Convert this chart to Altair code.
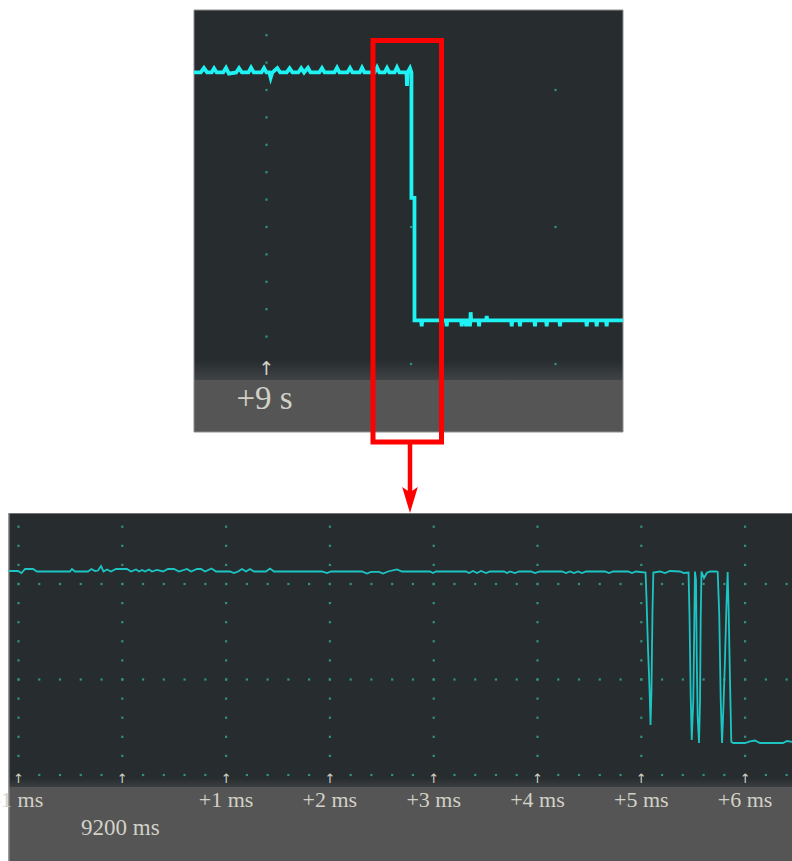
import altair as alt
import pandas as pd

# ---------------------------------------------------------------
# Overview capture: time in seconds, signal level in volts
# ---------------------------------------------------------------
top_time_s = [
    8.498, 8.545, 8.567, 8.589, 8.620, 8.637, 8.655, 8.700, 8.720, 8.740,
    8.790, 8.810, 8.830, 8.875, 8.893, 8.912, 8.965, 8.983, 9.000, 9.020,
    9.029, 9.040, 9.075, 9.095, 9.140, 9.160, 9.180, 9.220, 9.240, 9.260,
    9.287, 9.305, 9.365, 9.384, 9.402, 9.470, 9.488, 9.505, 9.560, 9.578,
    9.595, 9.645, 9.661, 9.678, 9.748, 9.765, 9.782, 9.818, 9.834, 9.850,
    9.886, 9.903, 9.920, 9.952, 9.969, 9.972, 9.976, 9.993, 10.003, 10.003,
    10.024, 10.024,
    10.070, 10.074, 10.078, 10.243, 10.247, 10.251, 10.347, 10.351, 10.355,
    10.377, 10.381, 10.385, 10.404, 10.408, 10.411, 10.413, 10.416,
    10.467, 10.471, 10.475, 10.520, 10.524, 10.528, 10.693, 10.697, 10.701,
    10.750, 10.754, 10.758, 10.854, 10.858, 10.862, 10.935, 10.939, 10.943,
    11.027, 11.031, 11.035, 11.212, 11.216, 11.220, 11.281, 11.285, 11.289,
    11.350, 11.354, 11.358, 11.467,
]
top_volts = [
    2.128, 2.128, 2.160, 2.128, 2.128, 2.158, 2.128, 2.128, 2.162, 2.120,
    2.128, 2.160, 2.128, 2.128, 2.163, 2.128, 2.128, 2.160, 2.128, 2.128,
    2.090, 2.128, 2.160, 2.128, 2.128, 2.158, 2.128, 2.128, 2.160, 2.128,
    2.162, 2.128, 2.128, 2.160, 2.128, 2.128, 2.162, 2.128, 2.128, 2.160,
    2.128, 2.128, 2.163, 2.128, 2.128, 2.165, 2.128, 2.128, 2.160, 2.128,
    2.128, 2.165, 2.128, 2.128, 2.128, 2.030, 2.128, 2.160, 2.128, 1.212,
    1.212, 0.318,
    0.318, 0.275, 0.318, 0.318, 0.275, 0.318, 0.318, 0.275, 0.318,
    0.318, 0.275, 0.318, 0.318, 0.275, 0.318, 0.378, 0.318,
    0.318, 0.275, 0.318, 0.318, 0.350, 0.318, 0.318, 0.275, 0.318,
    0.318, 0.275, 0.318, 0.318, 0.275, 0.318, 0.318, 0.275, 0.318,
    0.318, 0.275, 0.318, 0.318, 0.275, 0.318, 0.318, 0.275, 0.318,
    0.318, 0.275, 0.318, 0.318,
]

# ---------------------------------------------------------------
# Zoomed capture: time in ms after the 9200 ms mark, level in volts
# ---------------------------------------------------------------
zoom_time_ms = [
    -1.092, -1.005, -0.971, -0.937, -0.860, -0.822, -0.504, -0.485, -0.456, -0.330,
    -0.297, -0.263, -0.234, -0.205, -0.181, -0.147, -0.109, -0.061, 0.045, 0.084,
    0.132, 0.161, 0.190, 0.219, 0.257, 0.286, 0.334, 0.392, 0.440, 0.498,
    0.546, 0.623, 0.662, 0.720, 0.758, 0.797, 0.859, 0.903, 1.038, 1.076,
    1.115, 1.153, 1.192, 1.230, 1.269, 1.384, 1.423, 1.462, 1.924, 1.972,
    2.011, 2.309, 2.357, 2.396, 2.473, 2.512, 2.560, 2.646, 2.695, 2.964,
    2.993, 3.022, 3.311, 3.340, 3.379, 3.417, 3.456, 3.504, 3.542, 3.677,
    3.706, 3.735, 3.783, 3.822, 3.937, 3.976, 4.024, 4.236, 4.275, 4.313,
    4.352, 4.390, 4.429, 4.467, 4.650, 4.689, 4.727, 4.872, 4.910, 4.949,
    5.041, 5.050, 5.065, 5.079, 5.089, 5.098, 5.108, 5.116, 5.180, 5.228,
    5.277, 5.373, 5.411, 5.455, 5.464, 5.476, 5.486, 5.501, 5.511, 5.517,
    5.527, 5.534, 5.543, 5.556, 5.566, 5.572, 5.580, 5.604, 5.630, 5.662,
    5.720, 5.736, 5.751, 5.765, 5.778, 5.792, 5.806, 5.821, 5.832, 5.842,
    5.855, 5.867, 5.886, 5.999, 6.047, 6.095, 6.144, 6.365, 6.404, 6.452,
]
zoom_volts = [
    2.136, 2.136, 2.115, 2.157, 2.157, 2.131, 2.131, 2.157, 2.131, 2.131,
    2.157, 2.136, 2.141, 2.188, 2.131, 2.152, 2.131, 2.157, 2.157, 2.131,
    2.152, 2.131, 2.147, 2.131, 2.152, 2.131, 2.147, 2.131, 2.157, 2.157,
    2.131, 2.157, 2.131, 2.157, 2.157, 2.131, 2.162, 2.131, 2.131, 2.115,
    2.131, 2.157, 2.131, 2.157, 2.131, 2.131, 2.162, 2.131, 2.131, 2.115,
    2.131, 2.131, 2.110, 2.126, 2.126, 2.110, 2.131, 2.152, 2.131, 2.131,
    2.115, 2.131, 2.131, 2.115, 2.136, 2.115, 2.136, 2.115, 2.131, 2.131,
    2.115, 2.131, 2.115, 2.131, 2.131, 2.115, 2.131, 2.131, 2.115, 2.131,
    2.115, 2.131, 2.115, 2.131, 2.131, 2.115, 2.131, 2.131, 2.115, 2.131,
    2.120, 1.853, 1.309, 0.911, 0.524, 0.890, 1.728, 2.120, 2.131, 2.115,
    2.136, 2.131, 2.115, 2.120, 1.696, 0.817, 0.366, 0.785, 1.623, 2.131,
    2.042, 1.236, 0.607, 0.335, 0.785, 1.623, 2.131, 2.063, 2.115, 2.131,
    2.131, 2.126, 1.675, 0.785, 0.335, 0.733, 1.204, 1.801, 2.126, 1.696,
    0.963, 0.349, 0.335, 0.335, 0.351, 0.361, 0.335, 0.335, 0.356, 0.346,
]

# Timeline ticks and their captions
top_ticks_s = [9, 10, 11]
top_tick_text = ["+9 s", "", ""]
zoom_ticks_ms = [-1, 0, 1, 2, 3, 4, 5, 6]
zoom_tick_text = ["-1 ms", "", "+1 ms", "+2 ms", "+3 ms", "+4 ms", "+5 ms", "+6 ms"]
zoom_origin_ms = [0]
zoom_origin_text = ["9200 ms"]

# Colours
SCREEN = "#272c2e"
STRIP = "#555555"
DOT = "#2f9083"
LABEL = "#d2d1c7"
TOP_TRACE = "#1ff2f2"
ZOOM_TRACE = "#1dc4c4"
RED = "#ff0000"
SERIF = "Liberation Serif"

# Scales: one grid division = 1 s (or 1 ms) horizontally and 1 V vertically
top_x = alt.Scale(domain=[9, 11], range=[266.5, 555.5], nice=False, zero=False)
top_y = alt.Scale(domain=[0, 2], range=[364, 90], nice=False, zero=False)
zoom_x = alt.Scale(domain=[0, 6], range=[122.3, 745.1], nice=False, zero=False)
zoom_y = alt.Scale(domain=[0, 2], range=[775, 584], nice=False, zero=False)

one = pd.DataFrame({"k": [0]})


def box(x0, x1, y0, y1, **mark):
    return alt.Chart(one).mark_rect(**mark).encode(
        x=alt.value(x0), x2=alt.value(x1), y=alt.value(y0), y2=alt.value(y1)
    )


def fade(top, bottom):
    return alt.Gradient(
        gradient="linear",
        stops=[alt.GradientStop(offset=0, color=top), alt.GradientStop(offset=1, color=bottom)],
        x1=0, x2=0, y1=0, y2=1,
    )


# ---------------- data tables ----------------
top_df = pd.DataFrame({"t": top_time_s, "v": top_volts})
top_df["i"] = range(len(top_df))
zoom_df = pd.DataFrame({"t": zoom_time_ms, "v": zoom_volts})
zoom_df["i"] = range(len(zoom_df))

# graticule dots: the 9 s column carries the fine divisions, other columns only the majors
top_dots = [(9, round(0.2 * k, 1)) for k in range(1, 13)]
top_dots += [(t, v) for t in top_ticks_s[1:] for v in (0, 1, 2)]
top_dot_df = pd.DataFrame(top_dots, columns=["t", "v"])

zoom_dots = [(t, round(0.2 * k, 1)) for t in zoom_ticks_ms for k in range(1, 14)]
zoom_dots += [
    (round(-1 + 0.2 * k, 1), v)
    for k in range(0, 38)
    for v in (0, 1, 2)
    if not (v == 0 and k % 5 == 0)
]
zoom_dot_df = pd.DataFrame(zoom_dots, columns=["t", "v"])

top_tick_df = pd.DataFrame({"t": top_ticks_s, "txt": top_tick_text})
zoom_tick_df = pd.DataFrame({"t": zoom_ticks_ms, "txt": zoom_tick_text})
zoom_origin_df = pd.DataFrame({"t": zoom_origin_ms, "txt": zoom_origin_text})

# ---------------- overview panel ----------------
top_frame = [
    box(194, 623, 10, 432, color=SCREEN),
    box(194, 623, 360, 380, color=fade(SCREEN, "#3f4345")),
    box(194, 623, 380, 432, color=STRIP),
    box(194, 623, 10, 432, fillOpacity=0, stroke="#8e8e8e", strokeWidth=1),
]
top_dots_layer = alt.Chart(top_dot_df).mark_square(size=5, color=DOT, opacity=1).encode(
    x=alt.X("t:Q", scale=top_x, axis=None), y=alt.Y("v:Q", scale=top_y, axis=None)
)
top_line = alt.Chart(top_df).mark_line(color=TOP_TRACE, strokeWidth=3.8, interpolate="linear").encode(
    x=alt.X("t:Q", scale=top_x, axis=None),
    y=alt.Y("v:Q", scale=top_y, axis=None),
    order="i:Q",
)
top_arrow = alt.Chart(top_tick_df[top_tick_df.txt != ""]).mark_text(
    text="↑", font="DejaVu Sans", fontSize=19, color=LABEL, baseline="middle"
).encode(x=alt.X("t:Q", scale=top_x, axis=None), y=alt.value(369))
top_labels = alt.Chart(top_tick_df).mark_text(
    font=SERIF, fontSize=33, color=LABEL, baseline="alphabetic", align="center", dx=-2
).encode(x=alt.X("t:Q", scale=top_x, axis=None), y=alt.value(409), text="txt:N")

# ---------------- zoomed panel ----------------
zoom_frame = [
    box(9, 792, 513, 861, color=SCREEN),
    box(9, 792, 778, 787, color=fade(SCREEN, "#3b3e40")),
    box(9, 792, 787, 861, color=STRIP),
    box(9, 792, 513, 514, color="#6f7375"),
    box(8, 9.5, 513, 861, color="#9a9a9a"),
]
zoom_dots_layer = alt.Chart(zoom_dot_df).mark_square(size=5, color=DOT, opacity=1).encode(
    x=alt.X("t:Q", scale=zoom_x, axis=None), y=alt.Y("v:Q", scale=zoom_y, axis=None)
)
zoom_line = alt.Chart(zoom_df).mark_line(color=ZOOM_TRACE, strokeWidth=1.8, interpolate="linear").encode(
    x=alt.X("t:Q", scale=zoom_x, axis=None),
    y=alt.Y("v:Q", scale=zoom_y, axis=None),
    order="i:Q",
)
zoom_arrows = alt.Chart(zoom_tick_df).mark_text(
    text="↑", font="DejaVu Sans", fontSize=13, color=LABEL, baseline="middle"
).encode(x=alt.X("t:Q", scale=zoom_x, axis=None), y=alt.value(779))
zoom_labels = alt.Chart(zoom_tick_df).mark_text(
    font=SERIF, fontSize=22, color=LABEL, baseline="alphabetic", align="center"
).encode(x=alt.X("t:Q", scale=zoom_x, axis=None), y=alt.value(807), text="txt:N")
zoom_origin = alt.Chart(zoom_origin_df).mark_text(
    font=SERIF, fontSize=23, color=LABEL, baseline="alphabetic", align="center", dx=-2
).encode(x=alt.X("t:Q", scale=zoom_x, axis=None), y=alt.value(835), text="txt:N")

# ---------------- zoom call-out ----------------
callout = [
    box(373, 441.5, 40.5, 442, fillOpacity=0, stroke=RED, strokeWidth=5),
    alt.Chart(one).mark_rule(color=RED, strokeWidth=4.5).encode(
        x=alt.value(410), y=alt.value(442), y2=alt.value(496)
    ),
    alt.Chart(one).mark_point(
        shape="M0,1 L-0.6,-1 L0,-0.6 L0.6,-1 Z", filled=True, size=676, color=RED, opacity=1
    ).encode(x=alt.value(410), y=alt.value(500)),
]

chart = alt.layer(
    *top_frame, top_dots_layer, top_line, top_arrow, top_labels,
    *zoom_frame, zoom_dots_layer, zoom_line, zoom_arrows, zoom_labels, zoom_origin,
    *callout,
).resolve_scale(
    x="independent", y="independent"
).properties(
    width=792, height=861, padding=0,
    autosize=alt.AutoSizeParams(type="none"),
    background="white",
).configure_view(stroke=None)

chart.save("out.html", embed_options={"renderer": "svg", "actions": False})
